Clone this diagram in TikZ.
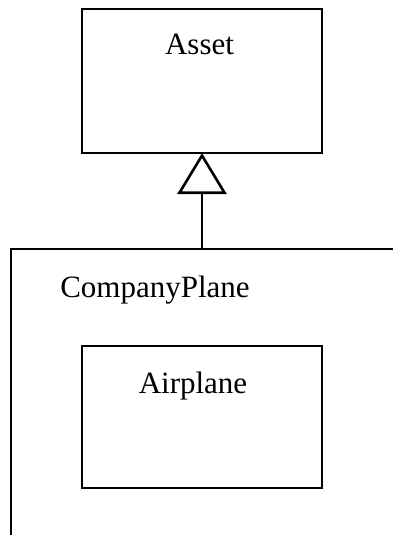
\documentclass[tikz,border=0pt]{standalone}
\usepackage{fontspec}
\setmainfont{Liberation Serif}
\usetikzlibrary{arrows.meta}
\begin{document}
\begin{tikzpicture}[x=1pt,y=-1pt,
  classbox/.style={draw=black, line width=2.6pt, fill=white, rectangle, inner sep=0pt, outer sep=0pt},
  classname/.style={font=\fontsize{31}{36}\selectfont, anchor=base, inner sep=0pt},
  generalization/.style={draw=black, line width=2.6pt,
    -{Triangle[open, width=49pt, length=41pt, line width=2.6pt]}}]
  \useasboundingbox (0,0) rectangle (393,535);
  \begin{scope}
    \clip (0,0) rectangle (393,535);
    % outer class, running off the page to the right and bottom
    \node[classbox, minimum width=382.8pt, minimum height=320pt, anchor=north west] (company) at (11,249) {};
  \end{scope}
  % superclass
  \node[classbox, minimum width=240pt, minimum height=144pt, anchor=north west] (asset) at (82,9) {};
  \node[classname] (assetname) at (199.5,55) {Asset};
  % nested class
  \node[classname] (companyname) at (155,297) {CompanyPlane};
  \node[classbox, minimum width=240pt, minimum height=142pt, anchor=north west] (airplane) at (82,346) {};
  \node[classname] (airplanename) at (193,393) {Airplane};
  % inheritance arrow
  \draw[generalization] (asset.south |- company.north) -- (asset.south);
\end{tikzpicture}
\end{document}
